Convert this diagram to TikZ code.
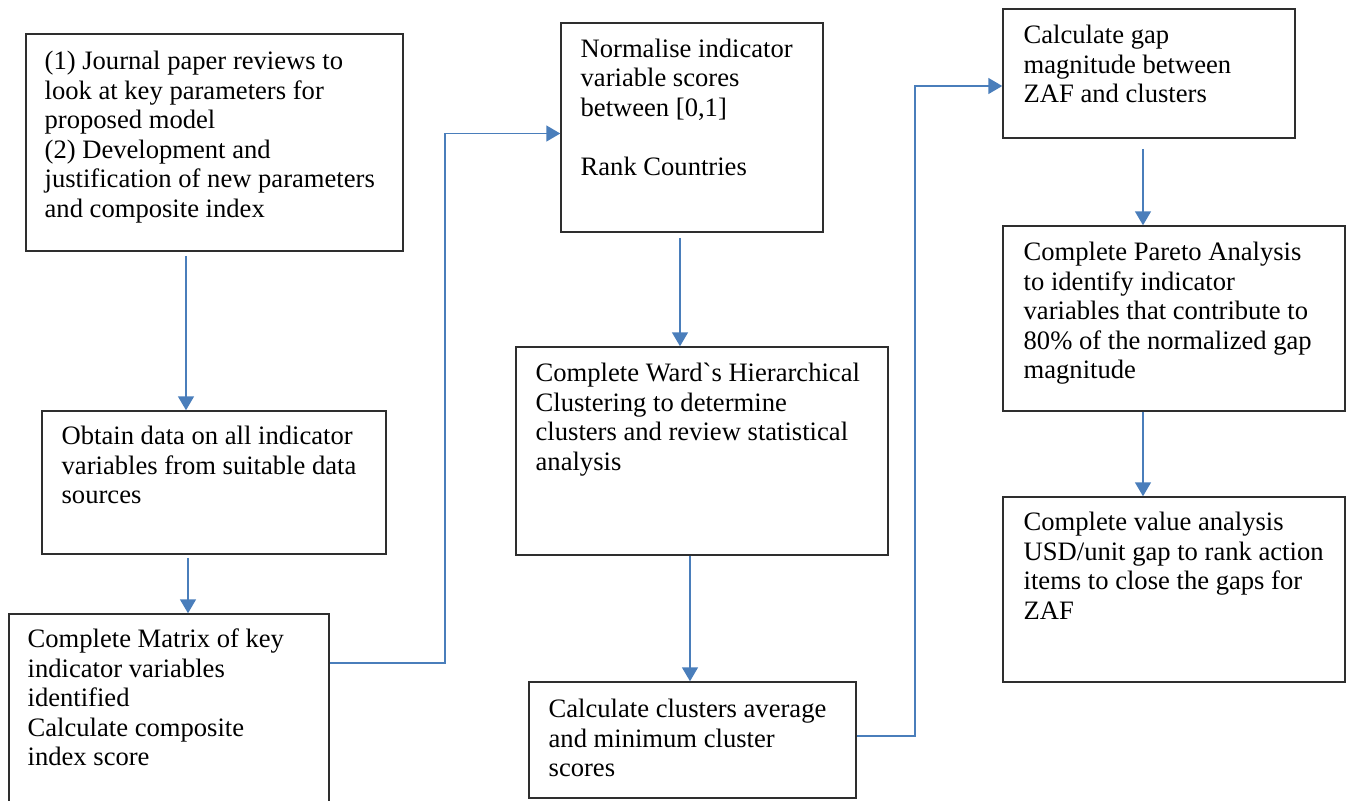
\documentclass[tikz,border=0pt]{standalone}
\usepackage{fontspec}
\setmainfont{Liberation Serif}[Ligatures=TeXOff]
\usetikzlibrary{arrows.meta,calc,fit}
\definecolor{flowblue}{HTML}{4A7EBB}
\definecolor{boxline}{HTML}{2E2E2E}

\begin{document}
\begin{tikzpicture}[x=0.5pt,y=-0.5pt,
  box/.style={draw=boxline, line width=0.75pt, inner sep=0pt},
  txt/.style={anchor=north west, inner sep=0pt, align=left,
              font=\fontsize{13.3}{14.75}\selectfont},
  flow/.style={draw=flowblue, line width=0.85pt,
               -{Triangle[length=7pt,width=8pt]}}]
\useasboundingbox (0,0) rectangle (1351,800);

% process boxes
\node[box, fit={(26,34) (403,251)}]    (A) {};
\node[box, fit={(42,411) (386,554)}]   (B) {};
\node[box, fit={(9,614) (329,803)}]    (C) {};
\node[box, fit={(561,23) (823,232)}]   (D) {};
\node[box, fit={(516,347) (888,555)}]  (E) {};
\node[box, fit={(529,682) (856,798)}]  (F) {};
\node[box, fit={(1003,9) (1295,138)}]  (G) {};
\node[box, fit={(1003,226) (1345,411)}] (H) {};
\node[box, fit={(1003,497) (1345,682)}] (I) {};

% box texts
\node[txt] (At) at ($(A.north west)+(19,15.5)$) {\strut(1) Journal paper reviews to\\look at key parameters for\\proposed model\\(2) Development and\\justification of new parameters\\and composite index};
\node[txt] (Bt) at ($(B.north west)+(20,13.5)$) {\strut Obtain data on all indicator\\variables from suitable data\\sources};
\node[txt] (Ct) at ($(C.north west)+(19,13.5)$) {\strut Complete Matrix of key\\indicator variables\\identified\\Calculate composite\\index score};
\node[txt] (Dt) at ($(D.north west)+(20,14)$) {\strut Normalise indicator\\variable scores\\between [0,1]\\[14.75pt]Rank Countries};
\node[txt] (Et) at ($(E.north west)+(20,14.5)$) {\strut Complete Ward`s Hierarchical\\Clustering to determine\\clusters and review statistical\\analysis};
\node[txt] (Ft) at ($(F.north west)+(20,15.5)$) {\strut Calculate clusters average\\and minimum cluster\\scores};
\node[txt] (Gt) at ($(G.north west)+(21,14.5)$) {\strut Calculate gap\\magnitude between\\ZAF and clusters};
\node[txt] (Ht) at ($(H.north west)+(21,14.5)$) {\strut Complete Pareto Analysis\\to identify indicator\\variables that contribute to\\80\% of the normalized gap\\magnitude};
\node[txt] (It) at ($(I.north west)+(21,13.5)$) {\strut Complete value analysis\\USD/unit gap to rank action\\items to close the gaps for\\ZAF};

% connector end points
\coordinate (a1) at ($(A.south)+(-28.5,4)$);
\coordinate (b1) at ($(B.south)+(-26,3)$);
\coordinate (c1) at ($(C.north east)+(0,50)$);
\coordinate (c2) at ($(D.north west)+(-115,0)$);
\coordinate (d0) at ($(D.west)+(0,6)$);
\coordinate (d1) at ($(D.south)+(-12,5)$);
\coordinate (e1) at ($(E.south)+(-12,0)$);
\coordinate (f1) at ($(F.east)+(0,-4)$);
\coordinate (f2) at ($(G.north west)+(-87,0)$);
\coordinate (g0) at ($(G.west)+(0,12.5)$);
\coordinate (g1) at ($(G.south)+(-6,10)$);
\coordinate (h1) at ($(H.south)+(-31,0)$);

% connectors
\draw[flow] (a1) -- (a1 |- B.north);
\draw[flow] (b1) -- (b1 |- C.north);
\draw[flow] (c1) -| (c2 |- d0) -- (d0);
\draw[flow] (d1) -- (d1 |- E.north);
\draw[flow] (e1) -- (e1 |- F.north);
\draw[flow] (f1) -| (f2 |- g0) -- (g0);
\draw[flow] (g1) -- (g1 |- H.north);
\draw[flow] (h1) -- (h1 |- I.north);
\end{tikzpicture}
\end{document}
